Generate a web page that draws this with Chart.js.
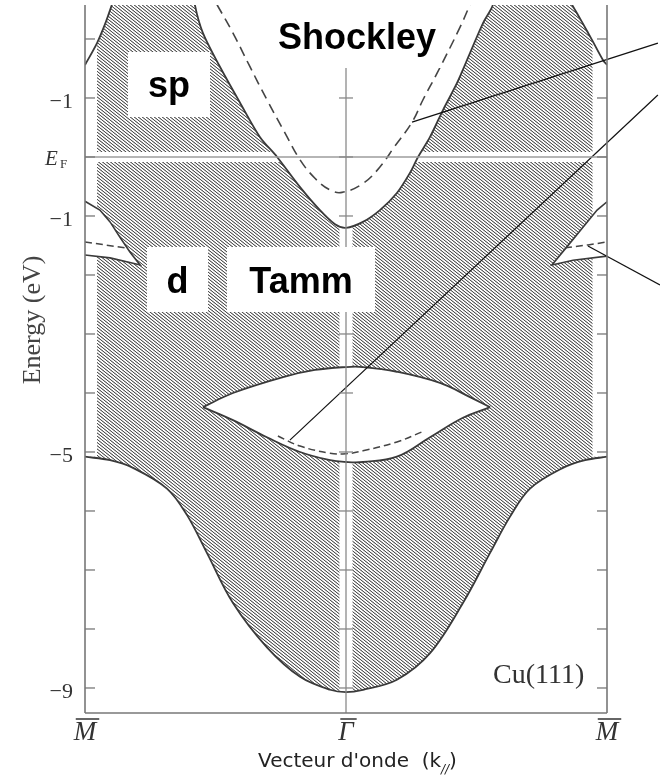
<!DOCTYPE html>
<html>
<head>
<meta charset="utf-8">
<script src="https://cdn.jsdelivr.net/npm/chart.js@4.4.0/dist/chart.umd.min.js"></script>
<style>
  html, body { margin: 0; padding: 0; background: #fff; }
  canvas { display: block; }
</style>
</head>
<body>
<canvas id="chart" width="660" height="777"></canvas>
<script>
// k// : -1 = M, 0 = Gamma, 1 = M      energy in eV, 0 = E_F
const kTickValues = [-1, 0, 1];
const kTickLabels = ['M', 'Γ', 'M'];
const energyTicks = [2, 1, 0, -1, -2, -3, -4, -5, -6, -7, -8, -9];
const energyLabelValues = [1, 0, -1, -5, -9];
const energyLabelTexts = ['−1', 'EF', '−1', '−5', '−9'];

// lowest bulk band edge (bottom of hatched area)
const bandBottomK = [-1.0, -0.904, -0.816, -0.686, -0.609, -0.533, -0.433, -0.303, -0.176, -0.061, 0, 0.065, 0.195, 0.322, 0.448, 0.552, 0.628, 0.705, 0.831, 0.916, 1.0];
const bandBottomE = [-5.08, -5.14, -5.27, -5.62, -6.07, -6.71, -7.56, -8.31, -8.81, -9.03, -9.07, -9.03, -8.86, -8.41, -7.56, -6.71, -6.10, -5.62, -5.27, -5.14, -5.08];

// sp gap around Gamma (white parabola)
const spGapK = [-0.579, -0.548, -0.483, -0.406, -0.330, -0.264, -0.176, -0.100, -0.042, 0, 0.065, 0.130, 0.195, 0.245, 0.276, 0.322, 0.372, 0.425, 0.475, 0.525, 0.563];
const spGapE = [2.58, 2.10, 1.53, 0.92, 0.34, 0.00, -0.51, -0.90, -1.14, -1.20, -1.10, -0.90, -0.61, -0.27, 0.00, 0.34, 0.80, 1.25, 1.76, 2.27, 2.58];

// Shockley surface state (dashed)
const shockleyK = [-0.494, -0.433, -0.368, -0.303, -0.234, -0.176, -0.119, -0.061, -0.015, 0.065, 0.130, 0.185, 0.253, 0.295, 0.349, 0.437, 0.475];
const shockleyE = [2.58, 2.10, 1.53, 0.97, 0.41, -0.05, -0.36, -0.56, -0.60, -0.45, -0.17, 0.17, 0.59, 0.97, 1.42, 2.20, 2.58];

// upper band edges near M
const edgeLeftK = [-1.0, -0.954, -0.92, -0.897];
const edgeLeftE = [1.56, 1.93, 2.29, 2.58];
const edgeRightK = [0.866, 0.904, 0.943, 0.985, 1.0];
const edgeRightE = [2.58, 2.29, 1.98, 1.64, 1.56];

// d gaps near M (wedges) and their states
const wedgeLeftK = [-1.0, -0.943, -0.904, -0.866, -0.828, -0.789, -0.816, -0.904, -1.0];
const wedgeLeftE = [-0.75, -0.90, -1.10, -1.36, -1.61, -1.83, -1.80, -1.71, -1.66];
const wedgeRightK = [1.0, 0.962, 0.908, 0.858, 0.789, 0.870, 1.0];
const wedgeRightE = [-0.76, -0.90, -1.19, -1.46, -1.83, -1.75, -1.68];
const wedgeStateLeftK = [-1.0, -0.923, -0.847];
const wedgeStateLeftE = [-1.44, -1.49, -1.54];
const wedgeStateRightK = [0.839, 0.927, 1.0];
const wedgeStateRightE = [-1.54, -1.49, -1.44];

// d gap around Gamma (lens) and Tamm state
const lensTopK = [-0.548, -0.433, -0.241, -0.119, 0, 0.065, 0.195, 0.360, 0.475, 0.552];
const lensTopE = [-4.24, -4.00, -3.73, -3.61, -3.56, -3.56, -3.64, -3.83, -4.07, -4.24];
const lensBottomK = [-0.548, -0.433, -0.303, -0.176, -0.061, 0, 0.065, 0.195, 0.322, 0.448, 0.552];
const lensBottomE = [-4.24, -4.46, -4.75, -5.00, -5.14, -5.17, -5.17, -5.08, -4.75, -4.42, -4.24];
const tammK = [-0.261, -0.176, -0.061, 0, 0.065, 0.195, 0.291];
const tammE = [-4.73, -4.90, -5.02, -5.03, -4.98, -4.83, -4.66];

// pointer lines from the right margin to the states
const pointerK = [[1.195, 0.253], [1.195, -0.215], [1.203, 0.927]];
const pointerE = [[1.93, 0.59], [1.05, -4.80], [-2.17, -1.51]];

const hatchLeft = -0.954;
const hatchRight = 0.946;
const topOut = 2.8;

const pts = (ks, es) => ks.map((k, i) => ({x: k, y: es[i]}));

const canvas = document.getElementById("chart");
const ctx = canvas.getContext("2d");

// diagonal hatch like the printed figure
const tile = document.createElement("canvas");
tile.width = 4;
tile.height = 16;
const tctx = tile.getContext("2d");
const img = tctx.createImageData(4, 16);
for (let j = 0; j < 16; j++) {
  for (let i = 0; i < 4; i++) {
    let d = ((i + 0.5 - (j + 0.5) * 1.25) % 4 + 4) % 4;
    let dist = Math.min(d, 4 - d);
    let a = Math.max(0, Math.min(1, 1.25 - dist));
    let v = Math.round(255 - a * 175);
    let p = (j * 4 + i) * 4;
    img.data[p] = img.data[p + 1] = img.data[p + 2] = v;
    img.data[p + 3] = 255;
  }
}
tctx.putImageData(img, 0, 0);
const hatch = ctx.createPattern(tile, "repeat");

// white overlays built from the edges
const stripLeft = [{x: -1.05, y: bandBottomE[0]}, {x: hatchLeft, y: bandBottomE[0]}, {x: hatchLeft, y: 1.8}]
  .concat(pts(edgeLeftK, edgeLeftE).filter(p => p.y > 1.8))
  .concat([{x: edgeLeftK[edgeLeftK.length - 1], y: topOut}, {x: -1.05, y: topOut}]);
const stripRight = [{x: 1.05, y: bandBottomE[0]}, {x: hatchRight, y: bandBottomE[0]}, {x: hatchRight, y: 1.95}]
  .concat(pts(edgeRightK, edgeRightE).filter(p => p.y > 1.95).reverse())
  .concat([{x: edgeRightK[0], y: topOut}, {x: 1.05, y: topOut}]);
const spGapPoly = [{x: spGapK[0], y: topOut}]
  .concat(pts(spGapK, spGapE))
  .concat([{x: spGapK[spGapK.length - 1], y: topOut}]);
const efStrip = [{x: -1, y: 0.085}, {x: 1, y: 0.085}, {x: 1, y: -0.085}, {x: -1, y: -0.085}];
const gammaStrip = [{x: -0.025, y: topOut}, {x: 0.025, y: topOut}, {x: 0.025, y: -9.6}, {x: -0.025, y: -9.6}];

const edgeColor = "#3a3a3a";
const base = {pointRadius: 0, borderWidth: 0, fill: false, tension: 0};

const datasets = [
  {...base, data: pts(bandBottomK, bandBottomE), fill: "end", backgroundColor: hatch, tension: 0.35, order: 20},
  {...base, data: stripLeft, fill: "shape", backgroundColor: "#fff", order: 18},
  {...base, data: stripRight, fill: "shape", backgroundColor: "#fff", order: 18},
  {...base, data: efStrip, fill: "shape", backgroundColor: "#fff", order: 17},
  {...base, data: gammaStrip, fill: "shape", backgroundColor: "#fff", order: 17},
  {...base, data: spGapPoly, fill: "shape", backgroundColor: "#fff", borderColor: edgeColor, borderWidth: 1.8, tension: 0.3, order: 15},
  {...base, data: pts(wedgeLeftK, wedgeLeftE), fill: "shape", backgroundColor: "#fff", borderColor: edgeColor, borderWidth: 1.6, order: 12},
  {...base, data: pts(wedgeRightK, wedgeRightE), fill: "shape", backgroundColor: "#fff", borderColor: edgeColor, borderWidth: 1.6, order: 12},
  {...base, data: pts(lensTopK, lensTopE), fill: "+1", backgroundColor: "#fff", borderColor: edgeColor, borderWidth: 1.8, tension: 0.4, order: 11},
  {...base, data: pts(lensBottomK, lensBottomE), borderColor: edgeColor, borderWidth: 1.8, tension: 0.4, order: 10},
  {...base, data: pts(bandBottomK, bandBottomE), borderColor: edgeColor, borderWidth: 1.8, tension: 0.35, order: 9},
  {...base, data: pts(edgeLeftK, edgeLeftE), borderColor: edgeColor, borderWidth: 1.8, tension: 0.3, order: 9},
  {...base, data: pts(edgeRightK, edgeRightE), borderColor: edgeColor, borderWidth: 1.8, tension: 0.3, order: 9},
  {...base, data: pts(shockleyK, shockleyE), borderColor: "#444", borderWidth: 1.6, borderDash: [10, 6], tension: 0.4, order: 5},
  {...base, data: pts(tammK, tammE), borderColor: "#444", borderWidth: 1.5, borderDash: [7, 4], tension: 0.4, order: 5},
  {...base, data: pts(wedgeStateLeftK, wedgeStateLeftE), borderColor: "#444", borderWidth: 1.5, borderDash: [7, 4], order: 5},
  {...base, data: pts(wedgeStateRightK, wedgeStateRightE), borderColor: "#444", borderWidth: 1.5, borderDash: [7, 4], order: 5},
];
pointerK.forEach((ks, i) => {
  datasets.push({...base, data: pts(ks, pointerE[i]), borderColor: "#111", borderWidth: 1.2, clip: false, order: 1});
});

const seg = (c, x1, y1, x2, y2) => {
  c.beginPath();
  c.moveTo(x1, y1);
  c.lineTo(x2, y2);
  c.stroke();
};

const frame = {
  id: "frame",
  afterDatasetsDraw(chart) {
    const c = chart.ctx;
    const a = chart.chartArea;
    const xs = chart.scales.x;
    const ys = chart.scales.y;
    const gx = xs.getPixelForValue(0);
    c.save();

    // Fermi level and Gamma line
    c.strokeStyle = "#9c9c9c";
    c.lineWidth = 1.6;
    seg(c, a.left, ys.getPixelForValue(0), a.right, ys.getPixelForValue(0));
    c.strokeStyle = "#8a8a8a";
    c.lineWidth = 1.3;
    seg(c, gx, a.top, gx, a.bottom);

    // frame
    c.strokeStyle = "#777";
    c.lineWidth = 1.6;
    seg(c, a.left, a.top, a.left, a.bottom);
    seg(c, a.right, a.top, a.right, a.bottom);
    seg(c, a.left, a.bottom, a.right, a.bottom);

    // inward ticks
    c.lineWidth = 1.3;
    energyTicks.forEach(v => {
      const py = ys.getPixelForValue(v);
      seg(c, a.left, py, a.left + 10, py);
      seg(c, a.right - 10, py, a.right, py);
      c.strokeStyle = "#888";
      seg(c, gx - 7, py, gx + 7, py);
      c.strokeStyle = "#777";
    });

    // energy labels
    c.fillStyle = "#333";
    energyLabelValues.forEach((v, i) => {
      const py = ys.getPixelForValue(v);
      const t = energyLabelTexts[i];
      if (t === "EF") {
        c.textAlign = "left";
        c.font = 'italic 21px "Liberation Serif"';
        c.fillText("E", 45, py + 8);
        c.font = '13px "Liberation Serif"';
        c.fillText("F", 60, py + 11);
      } else {
        c.textAlign = "right";
        c.font = '22px "Liberation Serif"';
        c.fillText(t, 73, py + 10);
      }
    });

    // k labels with bars
    c.font = 'italic 27px "Liberation Serif"';
    c.textAlign = "center";
    c.strokeStyle = "#333";
    c.lineWidth = 1.5;
    kTickValues.forEach((v, i) => {
      const px = xs.getPixelForValue(v);
      const w = c.measureText(kTickLabels[i]).width;
      c.fillText(kTickLabels[i], px, 740);
      seg(c, px - w / 2 + 2, 719, px + w / 2 + 3, 719);
    });

    // axis titles
    c.save();
    c.translate(33, 320);
    c.rotate(-Math.PI / 2);
    c.font = '26px "Liberation Serif"';
    c.textAlign = "center";
    c.textBaseline = "middle";
    c.fillStyle = "#444";
    c.fillText("Energy (eV)", 0, 0);
    c.restore();

    c.fillStyle = "#222";
    c.textAlign = "left";
    c.font = '20px "DejaVu Sans"';
    const t1 = "Vecteur d'onde  (k";
    c.fillText(t1, 258, 767);
    let tx = 258 + c.measureText(t1).width;
    c.font = 'italic 12px "DejaVu Sans"';
    c.fillText("//", tx, 773);
    tx += c.measureText("//").width;
    c.font = '20px "DejaVu Sans"';
    c.fillText(")", tx, 767);

    c.fillStyle = "#333";
    c.font = '28px "Liberation Serif"';
    c.fillText("Cu(111)", 493, 683);

    // label boxes
    c.fillStyle = "#fff";
    c.fillRect(128, 52, 82, 65);
    c.fillRect(147, 247, 61, 65);
    c.fillRect(227, 247, 148, 65);
    c.fillRect(268, 0, 173, 68);
    c.fillStyle = "#000";
    c.textAlign = "center";
    c.font = 'bold 36px "Liberation Sans"';
    c.fillText("sp", 169, 97);
    c.fillText("d", 177.5, 293);
    c.fillText("Tamm", 301, 293);
    c.fillText("Shockley", 357, 49);

    c.restore();
  }
};

let chart = new Chart(ctx, {
  type: "line",
  data: {datasets: datasets},
  options: {
    responsive: false,
    animation: false,
    devicePixelRatio: 1,
    events: [],
    layout: {padding: {left: 85, right: 53, top: 5, bottom: 64}},
    plugins: {legend: {display: false}, tooltip: {enabled: false}},
    scales: {
      x: {type: "linear", display: false, min: -1, max: 1},
      y: {type: "linear", display: false, min: -9.424, max: 2.576},
    },
  },
  plugins: [frame],
});
</script>
</body>
</html>
